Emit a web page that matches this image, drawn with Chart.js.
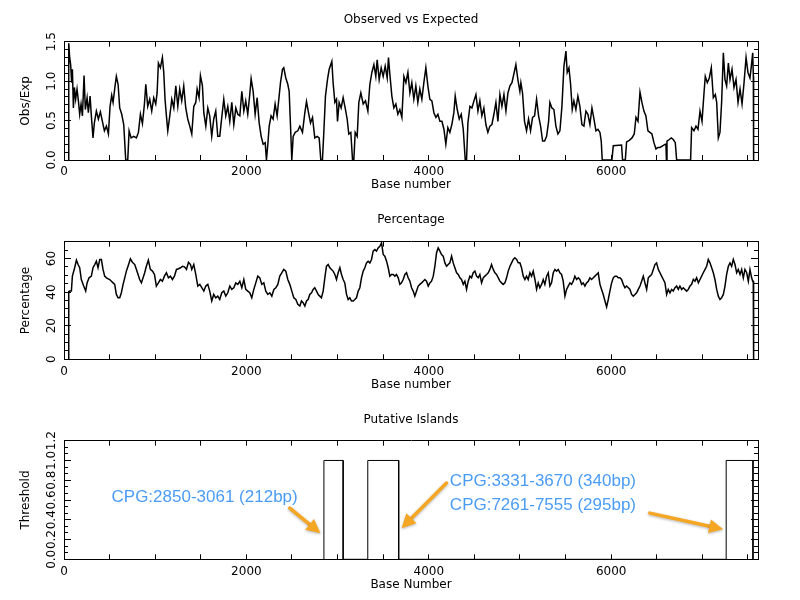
<!DOCTYPE html>
<html>
<head>
<meta charset="utf-8">
<title>CpG island plot</title>
<script src="https://cdn.jsdelivr.net/npm/chart.js@4.4.1/dist/chart.umd.min.js"></script>
<style>
  body { margin: 0; background: #fff; }
  canvas { position: absolute; left: 0; }
</style>
</head>
<body>
<canvas id="obs-chart" width="800" height="200" style="top:0"></canvas>
<canvas id="pct-chart" width="800" height="200" style="top:200px"></canvas>
<canvas id="isl-chart" width="800" height="200" style="top:400px"></canvas>
<script>
const seqLength = 7610;

// Observed vs Expected CpG ratio
const obsBase = [50, 52, 62, 73, 84, 92, 103, 114, 128, 143, 158, 172, 187, 202, 220, 234, 253, 267, 286, 300,
  318, 333, 355, 377, 399, 421, 443, 465, 487, 505, 523, 538, 560, 574, 593, 611, 633, 655, 677, 699,
  714, 736, 765, 794, 816, 838, 860, 882, 897, 918, 940, 962, 984, 1006, 1021, 1035, 1057, 1079, 1094, 1108,
  1123, 1138, 1160, 1182, 1204, 1226, 1248, 1269, 1291, 1313, 1335, 1357, 1379, 1401, 1423, 1445, 1460, 1481, 1496, 1518,
  1533, 1555, 1577, 1598, 1620, 1642, 1664, 1686, 1708, 1730, 1752, 1774, 1796, 1818, 1840, 1862, 1884, 1906, 1928, 1950,
  1972, 1993, 2015, 2037, 2052, 2074, 2096, 2118, 2140, 2162, 2184, 2206, 2220, 2235, 2250, 2271, 2293, 2315, 2337, 2359,
  2374, 2396, 2410, 2432, 2454, 2469, 2484, 2498, 2513, 2535, 2564, 2586, 2615, 2641, 2659, 2681, 2703, 2725, 2750, 2776,
  2798, 2816, 2834, 2849, 2867, 2889, 2908, 2937, 2951, 2970, 2988, 2999, 3017, 3039, 3061, 3083, 3105, 3123, 3145, 3164,
  3178, 3193, 3215, 3233, 3255, 3281, 3306, 3332, 3354, 3376, 3398, 3419, 3434, 3456, 3478, 3500, 3522, 3544, 3558, 3573,
  3595, 3617, 3639, 3661, 3683, 3705, 3727, 3749, 3771, 3793, 3814, 3836, 3858, 3880, 3902, 3924, 3946, 3968, 3990, 4012,
  4034, 4056, 4078, 4100, 4122, 4144, 4166, 4187, 4209, 4231, 4253, 4275, 4290, 4312, 4334, 4356, 4378, 4400, 4414, 4429,
  4451, 4473, 4495, 4517, 4539, 4560, 4582, 4604, 4626, 4648, 4670, 4692, 4714, 4736, 4758, 4780, 4802, 4824, 4846, 4868,
  4890, 4912, 4933, 4955, 4977, 4999, 5010, 5028, 5050, 5072, 5094, 5116, 5138, 5160, 5182, 5204, 5226, 5248, 5270, 5292,
  5314, 5328, 5350, 5372, 5394, 5416, 5438, 5460, 5482, 5504, 5518, 5537, 5555, 5573, 5591, 5613, 5635, 5657, 5679, 5701,
  5723, 5745, 5767, 5789, 5811, 5833, 5855, 5877, 5891, 5902, 6008, 6023, 6114, 6125, 6155, 6169, 6199, 6228, 6253, 6272,
  6294, 6316, 6337, 6359, 6381, 6403, 6425, 6447, 6469, 6491, 6513, 6535, 6564, 6593, 6600, 6606, 6612, 6637, 6659, 6681,
  6703, 6718, 6871, 6882, 6908, 6930, 6952, 6974, 6996, 7018, 7032, 7054, 7076, 7098, 7120, 7142, 7157, 7175, 7193, 7211,
  7230, 7248, 7266, 7285, 7303, 7325, 7347, 7369, 7391, 7413, 7435, 7457, 7479, 7500, 7522, 7537, 7552, 7559, 7562];
const obsRatio = [0, 1.48, 1.30, 1.21, 0.98, 1.15, 0.66, 0.92, 0.77, 0.90, 0.75, 0.58, 0.71, 0.56, 1.07, 0.64, 0.79, 0.60, 0.81, 0.56,
  0.28, 0.47, 0.62, 0.52, 0.61, 0.49, 0.37, 0.43, 0.33, 0.68, 0.82, 0.73, 0.94, 1.06, 0.96, 0.66, 0.58, 0.45, 0, 0,
  0.37, 0.28, 0.30, 0.28, 0.35, 0.58, 0.46, 0.71, 0.96, 0.68, 0.77, 0.62, 0.79, 0.71, 0.85, 1.23, 1.17, 1.30, 1.11, 0.77,
  0.56, 0.37, 0.56, 0.77, 0.66, 0.94, 0.68, 0.90, 0.75, 0.94, 0.66, 0.52, 0.43, 0.33, 0.68, 0.73, 0.90, 0.79, 1.07, 0.94,
  0.60, 0.43, 0.66, 0.56, 0.30, 0.52, 0.62, 0.30, 0.30, 0.54, 0.77, 0.56, 0.68, 0.49, 0.73, 0.45, 0.66, 0.58, 0.56, 0.87,
  0.62, 0.75, 0.58, 0.83, 1.03, 0.87, 0.58, 0.79, 0.47, 0.30, 0.20, 0.22, 0, 0.20, 0.43, 0.56, 0.52, 0.71, 0.56, 0.81,
  0.98, 1.15, 1.17, 1.04, 0.96, 0.87, 0.43, 0, 0.30, 0.35, 0.37, 0.43, 0.35, 0.60, 0.74, 0.60, 0.47, 0.54, 0.28, 0.30,
  0.28, 0, 0, 0.35, 0.81, 1.02, 1.15, 1.25, 0.98, 0.73, 0.77, 0.49, 0.73, 0.66, 0.79, 0.66, 0.52, 0.33, 0.35, 0,
  0, 0.35, 0.30, 0.73, 0.85, 0.71, 0.75, 0.62, 0.96, 1.11, 1.21, 1.06, 1.27, 1.02, 1.17, 1.06, 1.19, 1.04, 1.30, 1.09,
  0.81, 0.66, 0.71, 0.58, 0.64, 0.54, 1.06, 0.98, 1.11, 0.85, 0.98, 0.77, 0.94, 0.73, 0.90, 0.77, 0.98, 1.17, 0.94, 0.77,
  0.75, 0.60, 0.54, 0.58, 0.49, 0.49, 0.39, 0.20, 0.41, 0.35, 0.45, 0.60, 0.81, 0.64, 0.52, 0.58, 0.39, 0, 0, 0.47,
  0.68, 0.66, 0.75, 0.83, 0.62, 0.75, 0.56, 0.66, 0.45, 0.35, 0.43, 0.45, 0.58, 0.73, 0.49, 0.83, 0.68, 0.83, 0.62, 0.85,
  0.94, 0.98, 1.09, 1.21, 1.02, 0.87, 0.98, 0.85, 0.49, 0.37, 0.52, 0.37, 0.54, 0.56, 0.77, 0.56, 0.43, 0.24, 0.24, 0.30,
  0.49, 0.73, 0.66, 0.64, 0.43, 0.33, 0.37, 0.68, 1.19, 1.38, 1.11, 1.17, 0.96, 0.64, 0.75, 0.64, 0.81, 0.68, 0.45, 0.43,
  0.62, 0.58, 0.45, 0.66, 0.52, 0.37, 0.39, 0.35, 0.24, 0, 0, 0.18, 0.19, 0, 0, 0.23, 0.25, 0.28, 0.33, 0.54,
  0.49, 0.86, 0.73, 0.62, 0.56, 0.37, 0.35, 0.33, 0.22, 0.14, 0.16, 0.16, 0.18, 0.20, 0.21, 0, 0.24, 0.26, 0.28, 0.26,
  0.22, 0, 0, 0.41, 0.37, 0.43, 0.39, 0.62, 0.49, 0.85, 1.06, 0.98, 1.04, 1.17, 0.79, 0.83, 0.73, 0.28, 0.35, 0.73,
  1.36, 1.02, 0.94, 1.23, 1.02, 1.15, 0.92, 1.02, 0.73, 0.90, 0.71, 0.98, 1.30, 1.11, 1.04, 1.19, 1.36, 1.06, 0];

// GC percentage
const pctBase = [50, 52, 63, 81, 92, 117, 136, 154, 172, 190, 216, 238, 253, 275, 300, 318, 337, 355, 373, 392,
  410, 428, 446, 465, 501, 520, 538, 556, 574, 593, 611, 629, 648, 666, 684, 702, 728, 750, 776, 794,
  812, 830, 849, 867, 885, 903, 925, 947, 970, 992, 1013, 1035, 1057, 1079, 1101, 1123, 1145, 1167, 1189, 1211,
  1233, 1255, 1277, 1299, 1321, 1343, 1365, 1387, 1401, 1423, 1445, 1467, 1489, 1511, 1533, 1555, 1577, 1598, 1620, 1642,
  1664, 1686, 1708, 1730, 1752, 1774, 1796, 1818, 1840, 1862, 1884, 1906, 1928, 1950, 1972, 1993, 2015, 2037, 2059, 2081,
  2103, 2125, 2147, 2169, 2191, 2213, 2235, 2257, 2279, 2301, 2323, 2345, 2366, 2388, 2410, 2432, 2454, 2476, 2498, 2520,
  2542, 2564, 2586, 2604, 2622, 2641, 2659, 2677, 2695, 2714, 2732, 2750, 2769, 2787, 2805, 2823, 2842, 2860, 2878, 2897,
  2915, 2933, 2951, 2970, 2988, 3006, 3025, 3043, 3061, 3079, 3098, 3116, 3134, 3153, 3171, 3189, 3207, 3226, 3244, 3262,
  3281, 3299, 3317, 3335, 3354, 3372, 3390, 3409, 3427, 3445, 3463, 3482, 3500, 3518, 3537, 3555, 3573, 3591, 3610, 3628,
  3646, 3665, 3683, 3701, 3719, 3738, 3756, 3774, 3793, 3811, 3829, 3847, 3866, 3884, 3902, 3921, 3939, 3957, 3975, 3994,
  4012, 4030, 4049, 4067, 4085, 4103, 4122, 4140, 4158, 4177, 4195, 4213, 4231, 4250, 4268, 4286, 4305, 4323, 4341, 4359,
  4378, 4396, 4414, 4432, 4451, 4469, 4487, 4506, 4524, 4542, 4560, 4579, 4597, 4615, 4634, 4652, 4670, 4688, 4707, 4725,
  4743, 4762, 4780, 4798, 4816, 4835, 4853, 4871, 4890, 4908, 4926, 4944, 4963, 4981, 4999, 5017, 5036, 5054, 5072, 5090,
  5109, 5127, 5145, 5164, 5182, 5200, 5218, 5237, 5255, 5273, 5292, 5310, 5328, 5346, 5365, 5383, 5401, 5420, 5438, 5456,
  5474, 5493, 5511, 5529, 5548, 5566, 5584, 5602, 5621, 5639, 5657, 5676, 5694, 5712, 5730, 5749, 5767, 5785, 5804, 5822,
  5840, 5858, 5877, 5895, 5913, 5932, 5950, 5968, 5986, 6005, 6023, 6041, 6060, 6078, 6096, 6114, 6133, 6151, 6169, 6188,
  6206, 6224, 6242, 6261, 6279, 6297, 6316, 6334, 6352, 6370, 6389, 6407, 6425, 6444, 6462, 6480, 6498, 6517, 6535, 6553,
  6572, 6590, 6608, 6626, 6645, 6663, 6681, 6700, 6718, 6736, 6754, 6773, 6791, 6809, 6828, 6846, 6864, 6882, 6901, 6919,
  6937, 6956, 6974, 6992, 7010, 7029, 7047, 7065, 7083, 7102, 7120, 7138, 7157, 7175, 7193, 7211, 7230, 7248, 7266, 7285,
  7303, 7321, 7339, 7358, 7376, 7394, 7413, 7431, 7449, 7467, 7486, 7504, 7522, 7540, 7552, 7558, 7562];
const pctValue = [0, 40.2, 40.6, 40.6, 49.5, 54.5, 59.0, 56.4, 54.5, 47.5, 43.6, 40.6, 45.5, 48.5, 49.5, 54.5, 56.4, 58.4, 54.5, 59.4,
  59.4, 53.5, 49.5, 48.5, 47.5, 46.5, 45.5, 44.6, 38.6, 36.6, 36.6, 39.6, 44.6, 48.5, 52.5, 55.4, 59.8, 57.8, 56.4, 53.5,
  50.5, 47.5, 45.5, 48.5, 51.5, 55.4, 59.0, 53.5, 52.5, 50.5, 43.6, 45.5, 47.5, 46.5, 49.5, 51.5, 48.5, 49.5, 47.5, 49.5,
  53.5, 53.9, 54.5, 55.4, 55.0, 53.5, 57.8, 56.4, 53.5, 56.4, 50.5, 43.6, 44.6, 42.6, 40.6, 43.6, 44.6, 40.6, 34.7, 38.6,
  36.6, 37.6, 35.6, 39.6, 40.6, 37.6, 39.6, 43.6, 41.6, 42.6, 45.5, 44.6, 46.5, 42.6, 47.5, 41.6, 40.6, 39.6, 36.6, 41.6,
  45.5, 49.5, 48.5, 44.6, 45.5, 40.6, 38.6, 39.6, 37.6, 41.6, 42.6, 44.6, 49.5, 51.5, 53.5, 52.5, 47.5, 44.6, 40.6, 36.6,
  35.6, 32.7, 31.7, 34.7, 33.7, 31.7, 34.7, 35.6, 38.6, 39.6, 41.6, 42.6, 40.6, 38.6, 37.6, 36.6, 40.6, 48.5, 55.4, 56.4,
  54.5, 53.5, 52.5, 50.5, 47.5, 51.5, 54.5, 50.5, 47.5, 45.5, 38.6, 35.6, 36.6, 34.7, 34.7, 35.6, 36.6, 40.6, 42.6, 48.5,
  52.5, 54.5, 57.4, 58.4, 57.4, 59.4, 64.4, 65.3, 64.4, 66.3, 67.3, 69.3, 62.4, 61.4, 58.4, 54.5, 49.5, 50.5, 50.5, 49.5,
  50.5, 48.5, 44.6, 45.5, 47.5, 50.5, 51.5, 48.5, 46.5, 42.6, 40.6, 37.6, 40.6, 43.6, 44.6, 45.5, 46.5, 47.5, 46.5, 43.6,
  45.5, 46.5, 49.5, 55.4, 63.4, 66.3, 64.4, 62.4, 61.4, 57.4, 55.4, 56.4, 57.4, 61.4, 57.4, 54.5, 51.5, 50.5, 48.5, 47.5,
  44.6, 46.5, 41.6, 46.5, 49.5, 48.5, 51.5, 52.5, 49.5, 48.5, 50.5, 45.5, 48.5, 49.5, 50.5, 51.5, 53.5, 56.4, 53.5, 51.5,
  50.5, 48.5, 46.5, 45.5, 44.6, 45.5, 48.5, 52.5, 55.4, 57.4, 59.4, 60.4, 59.4, 57.4, 57.4, 54.5, 49.5, 47.5, 49.5, 47.5,
  51.5, 49.5, 52.5, 47.5, 41.6, 45.5, 42.6, 44.6, 47.5, 44.6, 49.5, 51.5, 43.6, 45.5, 51.5, 53.5, 52.5, 53.5, 51.5, 50.5,
  46.5, 37.6, 41.6, 43.6, 45.5, 44.6, 46.5, 49.5, 47.5, 48.5, 47.5, 44.6, 45.5, 43.6, 45.5, 46.5, 48.5, 47.5, 48.5, 49.5,
  50.5, 51.5, 44.6, 41.6, 38.6, 34.7, 31.2, 35.6, 40.6, 45.5, 48.5, 49.5, 49.5, 48.5, 48.5, 47.5, 44.6, 42.6, 43.6, 42.6,
  41.6, 38.6, 37.6, 38.6, 39.6, 41.6, 43.6, 46.5, 49.5, 45.5, 41.6, 48.5, 49.5, 50.5, 53.5, 56.4, 57.4, 53.5, 51.5, 49.5,
  47.5, 45.5, 38.6, 41.6, 39.6, 41.6, 40.6, 42.6, 43.6, 41.6, 43.6, 41.6, 42.6, 41.6, 40.6, 41.6, 43.6, 44.6, 47.5, 46.5,
  48.5, 45.5, 47.5, 49.5, 51.5, 53.5, 55.4, 59.4, 57.4, 54.5, 51.5, 47.5, 41.6, 37.6, 35.6, 36.6, 38.6, 43.6, 50.5, 55.4,
  57.4, 55.4, 59.4, 56.4, 51.5, 53.5, 50.5, 53.5, 48.5, 53.5, 51.5, 46.5, 53.5, 48.5, 46.5, 46.5, 0];

// Putative islands
const islandStart = [2850, 3331, 7261];
const islandEnd = [3061, 3670, 7555];
const islandThreshold = 1.0;
const islandLabels = ["CPG:2850-3061 (212bp)", "CPG:3331-3670 (340bp)", "CPG:7261-7555 (295bp)"];

// axis ticks: labelled (major) values and the minor step between marks
const baseMajor = [0, 2000, 4000, 6000];
const baseMinorStep = 500;
const obsMajor = [0, 0.5, 1.0, 1.5];
const pctMajor = [0, 20, 40, 60];
const islMajor = [0, 0.2, 0.4, 0.6, 0.8, 1.0, 1.2];

// hand-drawn notes on the islands panel, placed in data units
const notes = [
  { text: islandLabels[0], at: [1542, 0.63], align: "center", arrow: [[2476, 0.517], [2812, 0.264]] },
  { text: islandLabels[1], at: [4231, 0.787], align: "left", arrow: [[4194, 0.771], [3701, 0.315]] },
  { text: islandLabels[2], at: [4231, 0.551], align: "left", arrow: [[6424, 0.467], [7228, 0.304]] },
];

const FONT = "DejaVu Sans";
Chart.defaults.font.family = FONT;
Chart.defaults.font.size = 12;
Chart.defaults.color = "#000";

function toPoints(xs, ys) {
  return xs.map((x, i) => ({ x: x, y: ys[i] }));
}

function islandPoints() {
  let pts = [];
  islandStart.forEach((s, i) => {
    pts.push({ x: s, y: 0 }, { x: s, y: islandThreshold }, { x: islandEnd[i], y: islandThreshold }, { x: islandEnd[i], y: 0 });
  });
  return pts;
}

// tick values from min to max every step
function stepsOf(min, max, step) {
  const n = Math.round((max - min) / step);
  let out = [];
  for (let i = 0; i <= n; i++) {
    const v = min + i * step;
    if (v <= max + 1e-9) out.push(+v.toFixed(6));
  }
  return out;
}

// ticks drawn inward, IDL style
function edge(len) {
  return { display: true, drawOnChartArea: false, drawTicks: true, tickLength: -len, tickColor: "#000", tickWidth: 1 };
}

function useTicks(values) {
  return (s) => { s.ticks = values.map((v) => ({ value: v })); };
}

function makePanel(id, o) {
  const yRange = { type: "linear", min: o.yMin, max: o.yMax };
  const xRange = { type: "linear", min: 0, max: seqLength };
  const hidden = { display: false };
  const yMinorTicks = stepsOf(o.yMin, o.yMax, o.yMinor);
  const xMinorTicks = stepsOf(0, seqLength - seqLength % baseMinorStep, baseMinorStep);
  return new Chart(document.getElementById(id), {
    type: "line",
    data: { datasets: o.datasets },
    options: {
      responsive: false,
      animation: false,
      devicePixelRatio: 1,
      layout: { padding: { left: 0, right: 42, top: 0, bottom: 0 } },
      plugins: {
        legend: { display: false },
        tooltip: { enabled: false },
        title: {
          display: true, text: o.title, color: "#000", fullSize: false,
          font: { family: FONT, size: 12, weight: "normal" },
          padding: { top: 13, bottom: o.titleGap },
        },
      },
      scales: {
        yMinor: { ...yRange, position: "left", ticks: hidden, grid: edge(4), border: { display: false },
          afterBuildTicks: useTicks(yMinorTicks), afterFit: (s) => { s.width = 0; } },
        y: { ...yRange, position: "left",
          ticks: { minRotation: 90, maxRotation: 90, crossAlign: "center",
            padding: o.yPad, autoSkip: false, color: "#000", font: { family: FONT, size: 12 }, callback: o.yLabel },
          grid: edge(7), border: { display: true, color: "#000", width: 1 },
          title: { display: true, text: o.yTitle, color: "#000", font: { family: FONT, size: 12 }, padding: { top: 18.8, bottom: 0 } },
          afterBuildTicks: useTicks(o.yMajor), afterFit: (s) => { s.width = 64; } },
        yRightMinor: { ...yRange, position: "right", ticks: hidden, grid: edge(4), border: { display: true, color: "#000" },
          afterBuildTicks: useTicks(yMinorTicks), afterFit: (s) => { s.width = 0; } },
        yRight: { ...yRange, position: "right", ticks: hidden, grid: edge(7), border: { display: false },
          afterBuildTicks: useTicks(o.yMajor), afterFit: (s) => { s.width = 0; } },
        xTop: { ...xRange, position: "top", ticks: hidden, grid: edge(5), border: { display: true, color: "#000" },
          afterBuildTicks: useTicks(xMinorTicks), afterFit: (s) => { s.height = 0; } },
        x: { ...xRange, position: "bottom",
          ticks: { autoSkip: false, maxRotation: 0, padding: o.xPad, color: "#000",
            font: { family: FONT, size: 12 }, callback: (v) => (baseMajor.includes(v) ? String(v) : "") },
          grid: edge(5), border: { display: true, color: "#000", width: 1 },
          title: { display: true, text: o.xTitle, color: "#000", font: { family: FONT, size: 12 }, padding: { top: 0, bottom: 7.5 } },
          afterBuildTicks: useTicks(xMinorTicks), afterFit: (s) => { s.height = o.xHeight; } },
      },
    },
    plugins: o.plugins || [],
  });
}

function drawArrow(ctx, x1, y1, x2, y2) {
  const ang = Math.atan2(y2 - y1, x2 - x1);
  const head = 14, half = 7;
  const bx = x2 - head * Math.cos(ang), by = y2 - head * Math.sin(ang);
  ctx.beginPath();
  ctx.moveTo(x1, y1);
  ctx.lineTo(bx, by);
  ctx.stroke();
  ctx.beginPath();
  ctx.moveTo(x2, y2);
  ctx.lineTo(bx + half * Math.sin(ang), by - half * Math.cos(ang));
  ctx.lineTo(bx - half * Math.sin(ang), by + half * Math.cos(ang));
  ctx.closePath();
  ctx.fill();
}

const notesPlugin = {
  id: "islandNotes",
  afterDraw(chart) {
    const { ctx, scales } = chart;
    const px = (v) => scales.x.getPixelForValue(v);
    const py = (v) => scales.y.getPixelForValue(v);
    ctx.save();
    notes.forEach((n) => {
      ctx.font = '17px "Liberation Sans", Arial, sans-serif';
      ctx.fillStyle = "#4a9cf6";
      ctx.textAlign = n.align;
      ctx.textBaseline = "middle";
      ctx.fillText(n.text, px(n.at[0]), py(n.at[1]));

      ctx.save();
      ctx.strokeStyle = "#f5a623";
      ctx.fillStyle = "#f5a623";
      ctx.lineWidth = 3.5;
      ctx.lineCap = "round";
      ctx.shadowColor = "rgba(0,0,0,0.3)";
      ctx.shadowBlur = 3;
      ctx.shadowOffsetY = 1;
      const [a, b] = n.arrow;
      drawArrow(ctx, px(a[0]), py(a[1]), px(b[0]), py(b[1]));
      ctx.restore();
    });
    ctx.restore();
  },
};

const lineStyle = { borderColor: "#000", borderWidth: 1.5, pointRadius: 0, tension: 0, fill: false, clip: false, xAxisID: "x", yAxisID: "y" };

makePanel("obs-chart", {
  title: "Observed vs Expected", titleGap: 14.3, xHeight: 40, xPad: 9.8,
  yMin: 0, yMax: 1.5, yMajor: obsMajor, yMinor: 0.1, yPad: 9.5,
  yLabel: (v) => v.toFixed(1), yTitle: "Obs/Exp", xTitle: "Base number",
  datasets: [{ ...lineStyle, data: toPoints(obsBase, obsRatio) }],
});

makePanel("pct-chart", {
  title: "Percentage", titleGap: 14.3, xHeight: 40.7, xPad: 10.8,
  yMin: 0, yMax: 70, yMajor: pctMajor, yMinor: 5, yPad: 11.4,
  yLabel: (v) => String(v), yTitle: "Percentage", xTitle: "Base number",
  datasets: [{ ...lineStyle, data: toPoints(pctBase, pctValue) }],
});

makePanel("isl-chart", {
  title: "Putative Islands", titleGap: 13.3, xHeight: 40.7, xPad: 10.8,
  yMin: 0, yMax: 1.2, yMajor: islMajor, yMinor: 0.2 / 3, yPad: 9.5,
  yLabel: (v) => v.toFixed(1), yTitle: "Threshold", xTitle: "Base Number",
  datasets: [{ ...lineStyle, borderWidth: 1, data: islandPoints() }],
  plugins: [notesPlugin],
});
</script>
</body>
</html>
